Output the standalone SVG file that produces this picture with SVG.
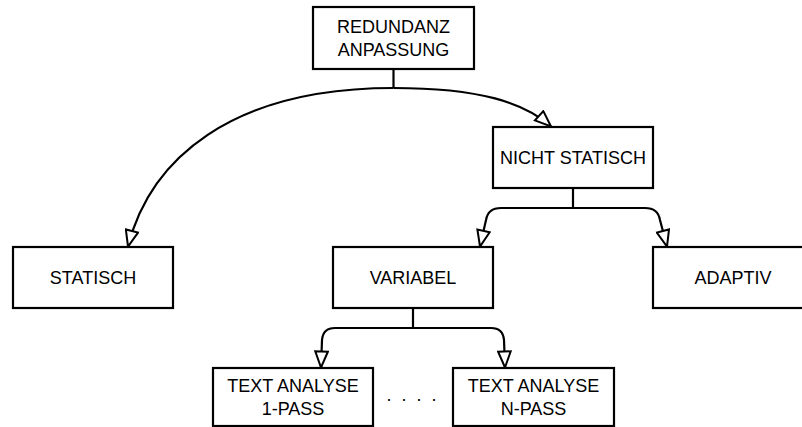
<svg xmlns="http://www.w3.org/2000/svg" width="802" height="427" viewBox="0 0 802 427">
  <style>
    .box { fill: #fff; stroke: #000; stroke-width: 2.2; }
    .lbl { font-family: "Liberation Sans", Arial, sans-serif; font-size: 18px; fill: #000; text-anchor: middle; }
    .wire { fill: none; stroke: #000; stroke-width: 2.2; }
    .stem { fill: none; stroke: #000; stroke-width: 2.2; }
  </style>
  <defs>
    <marker id="open-arrow" viewBox="0 0 19 15" refX="17.5" refY="7.5" markerWidth="19" markerHeight="15" markerUnits="userSpaceOnUse" orient="auto">
      <path d="M1.5,1.2 L17.5,7.5 L1.5,13.8 Z" fill="#fff" stroke="#000" stroke-width="2"/>
    </marker>
  </defs>
  <rect width="802" height="427" fill="#fff"/>

  <g id="connectors">
    <!-- root -->
    <path class="stem" d="M393.5,70 V88"/>
    <path class="wire" d="M393.5,88 C230,88 150,160 128,246.5" marker-end="url(#open-arrow)"/>
    <path class="wire" d="M393.5,88 C480,88 525,103 551,126.5" marker-end="url(#open-arrow)"/>
    <!-- nicht statisch -->
    <path class="stem" d="M573,188 V208"/>
    <path class="wire" d="M573,208 H501 Q488,208 486,220 L480,246.5" marker-end="url(#open-arrow)"/>
    <path class="wire" d="M573,208 H645 Q658,208 660,220 L667,246.5" marker-end="url(#open-arrow)"/>
    <!-- variabel -->
    <path class="stem" d="M413,308 V328"/>
    <path class="wire" d="M413,328 H335 Q323,328 322,340 L321,367.5" marker-end="url(#open-arrow)"/>
    <path class="wire" d="M413,328 H491 Q503,328 504,340 L505,367.5" marker-end="url(#open-arrow)"/>
  </g>

  <g id="redundanz">
    <rect class="box" x="313" y="7" width="161" height="62"/>
    <text class="lbl" x="393.5" y="33">REDUNDANZ</text>
    <text class="lbl" x="393.5" y="56">ANPASSUNG</text>
  </g>
  <g id="nicht-statisch">
    <rect class="box" x="493" y="127" width="160" height="61"/>
    <text class="lbl" x="573" y="164">NICHT STATISCH</text>
  </g>
  <g id="statisch">
    <rect class="box" x="13" y="247" width="160" height="61"/>
    <text class="lbl" x="93" y="284">STATISCH</text>
  </g>
  <g id="variabel">
    <rect class="box" x="333" y="247" width="160" height="61"/>
    <text class="lbl" x="413" y="284">VARIABEL</text>
  </g>
  <g id="adaptiv">
    <rect class="box" x="653" y="247" width="160" height="61"/>
    <text class="lbl" x="733" y="284">ADAPTIV</text>
  </g>
  <g id="text-analyse-1">
    <rect class="box" x="213" y="368" width="160" height="58"/>
    <text class="lbl" x="293" y="392">TEXT ANALYSE</text>
    <text class="lbl" x="293" y="415">1-PASS</text>
  </g>
  <g id="text-analyse-n">
    <rect class="box" x="453" y="368" width="161" height="58"/>
    <text class="lbl" x="533.5" y="392">TEXT ANALYSE</text>
    <text class="lbl" x="533.5" y="415">N-PASS</text>
  </g>
  <text x="386.5" y="401" font-family="Liberation Sans, Arial, sans-serif" font-size="18" letter-spacing="10">....</text>
</svg>
